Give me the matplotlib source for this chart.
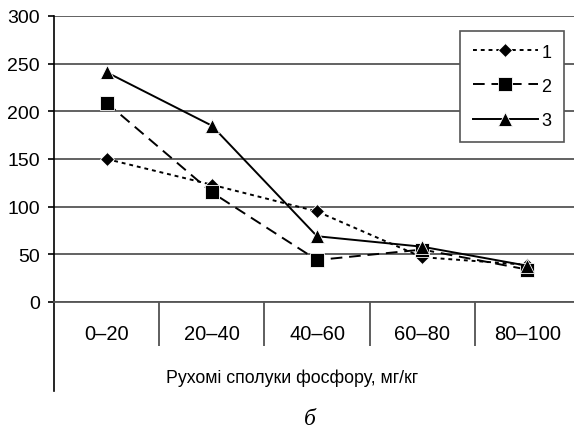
import numpy as np
import matplotlib
matplotlib.use("Agg")
import matplotlib.pyplot as plt

categories = ["0–20", "20–40", "40–60", "60–80", "80–100"]
series1 = [150, 123, 95, 47, 39]
series2 = [209, 115, 44, 55, 34]
series3 = [241, 185, 69, 58, 38]
labels = ["1", "2", "3"]

plt.rcParams['font.family'] = ['Liberation Sans', 'DejaVu Sans']

W, H = 574, 435
fig = plt.figure(figsize=(W / 100, H / 100), dpi=100)
# axes box in pixel coords: left 54, right 580, top 17, bottom 303
ax = fig.add_axes([54 / W, 1 - 303 / H, (580 - 54) / W, (303 - 17) / H])

x = np.arange(len(categories))
ax.plot(x, series1, color='black', lw=1.4, ls=(0, (2, 2)), marker='D', ms=7.5,
        mfc='black', mec='white', mew=0.6, label=labels[0], zorder=3)
ax.plot(x, series2, color='black', lw=1.4, ls=(0, (6, 3.5)), marker='s', ms=10,
        mfc='black', mec='white', mew=0.6, label=labels[1], zorder=3)
ax.plot(x, series3, color='black', lw=1.4, ls='-', marker='^', ms=10,
        mfc='black', mec='white', mew=0.6, label=labels[2], zorder=3)

ax.set_xlim(-0.5, len(categories) - 0.5)
ax.set_ylim(0, 300)
ax.set_yticks(np.arange(0, 301, 50))
ax.yaxis.grid(True, color='#555555', lw=1.3)
ax.set_axisbelow(True)

for s in ['top', 'right']:
    ax.spines[s].set_visible(False)
ax.spines['bottom'].set_color('#555555')
ax.spines['bottom'].set_linewidth(1.3)
ax.spines['left'].set_linewidth(1.2)

ax.tick_params(axis='y', direction='out', length=4.3, width=1.2, labelsize=14, pad=6)

ax.set_xticks(x)
ax.set_xticklabels(categories)
ax.tick_params(axis='x', which='major', length=0, labelsize=14.5, pad=16)
ax.set_xticks(np.arange(0.5, len(categories) - 0.5, 1), minor=True)
ax.tick_params(axis='x', which='minor', direction='out', length=32, width=1.1, color='#333333')

# left spine extends below the category labels
ax.plot([0, 0], [0, -(392 - 303) / (303 - 17)], transform=ax.transAxes,
        color='black', lw=1.2, clip_on=False)

fig.text(292 / W, 1 - 378 / H, "Рухомі сполуки фосфору, мг/кг",
         ha='center', va='center', fontsize=12.8)
fig.text(310 / W, 1 - 420 / H, "б", ha='center', va='center', fontsize=17,
         style='italic', family=['Liberation Serif', 'DejaVu Serif'])

leg = ax.legend(loc='upper left', bbox_to_anchor=((460 - 54) / (580 - 54), 1 - (32 - 17) / (303 - 17)),
                fontsize=13, handlelength=3.6, handletextpad=0.2, labelspacing=0.95,
                borderpad=0.7, fancybox=False, framealpha=1, edgecolor='#555555',
                borderaxespad=0)
leg.get_frame().set_linewidth(1.2)

fig.savefig("out.png", dpi=100)
